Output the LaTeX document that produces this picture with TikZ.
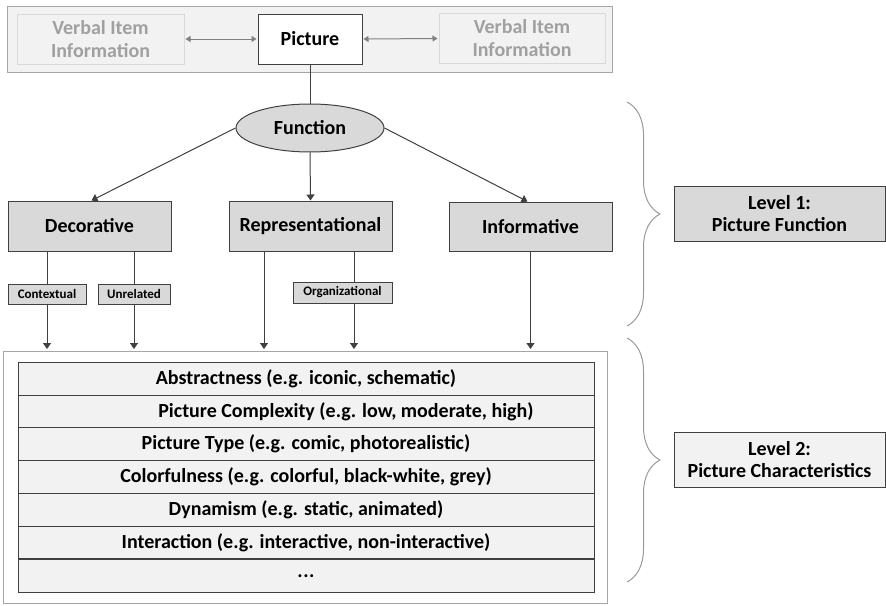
\documentclass[tikz,border=0pt]{standalone}
\usepackage{fontspec}
\setmainfont{Carlito}
\usepackage{tikz}
\usetikzlibrary{arrows.meta,positioning,shapes.geometric,decorations.pathreplacing}

\definecolor{boxgray}{HTML}{D9D9D9}
\definecolor{lightgray}{HTML}{F2F2F2}
\definecolor{framegray}{HTML}{A6A6A6}
\definecolor{textgray}{HTML}{A0A0A0}
\definecolor{linegray}{HTML}{404040}

\tikzset{
  lvlbox/.style={draw=linegray, line width=1pt, fill=boxgray, inner sep=0pt,
    font=\fontsize{20}{23}\selectfont\bfseries},
  subbox/.style={draw=linegray, line width=1pt, fill=boxgray, inner sep=0pt,
    minimum height=20pt, font=\fontsize{13}{15}\selectfont\bfseries},
  verbbox/.style={draw=boxgray, line width=1pt, fill=lightgray, text=textgray,
    minimum width=167pt, minimum height=50pt, align=center, inner sep=0pt,
    font=\fontsize{20}{23}\selectfont\bfseries},
  rowbox/.style={draw=linegray, line width=1pt, fill=lightgray, inner sep=0pt,
    minimum width=576pt, minimum height=32.7pt, font=\fontsize{20}{22}\selectfont\bfseries},
  sidebox/.style={draw=linegray, line width=1pt, minimum width=211pt, minimum height=55pt,
    align=center, inner sep=0pt, font=\fontsize{20}{22}\selectfont\bfseries},
  arr/.style={-{Triangle[width=8pt,length=6pt]}, line width=1pt, linegray},
  garr/.style={{Triangle[width=6pt,length=5pt]}-{Triangle[width=6pt,length=5pt]},
    line width=1pt, gray},
  bracelook/.style={decorate, decoration={brace,amplitude=33pt}, line width=1pt, gray!80}
}

\begin{document}
\begin{tikzpicture}[x=1pt,y=-1pt]
  \useasboundingbox (0,0) rectangle (886,605);

  % top band
  \draw[fill=lightgray, draw=framegray, line width=1pt] (7,6) rectangle (612,72);
  \node[verbbox] (verbl) at (100.5,39) {Verbal Item\\Information};
  \node[verbbox, minimum width=166pt] (verbr) at (522,38.5) {Verbal Item\\Information};
  \node[lvlbox, fill=white, minimum width=104pt, minimum height=50pt] (pic) at (310,39) {Picture};
  \draw[garr, shorten <=1pt, shorten >=1pt] (verbl.east) -- (pic.west);
  \draw[garr, shorten <=1pt, shorten >=1pt] (pic.east) -- (verbr.west);

  % level 1: function
  \node[lvlbox, ellipse, minimum width=148pt, minimum height=48pt] (func) at (310,128) {Function};
  \draw[line width=1pt, linegray] (pic.south) -- (func.north);

  \node[lvlbox, minimum width=163pt, minimum height=50pt] (deco) at (89.5,226) {Decorative};
  \node[lvlbox, minimum width=163pt, minimum height=50pt] (repr) at (310.5,226) {Representational};
  \node[lvlbox, minimum width=163pt, minimum height=49pt] (info) at (530.5,226.5) {Informative};
  \draw[arr] (func.west) -- ([xshift=2pt]deco.north);
  \draw[arr] (func.south) -- (repr.north);
  \draw[arr] (func.east) -- ([xshift=-3pt]info.north);

  \node[subbox, minimum width=78pt] (ctx) at (47,294) {Contextual};
  \node[subbox, minimum width=72pt] (unrel) at (134,294) {Unrelated};
  \node[subbox, minimum width=99pt, minimum height=21pt] (org) at (342.5,292.5) {Organizational};

  % level 2: characteristics
  \node[draw=framegray, fill=white, line width=1pt, minimum width=604pt, minimum height=252pt,
    inner sep=0pt] (chars) at (305,477) {};
  \foreach \txt [count=\i from 0] in {Abstractness (e.g. iconic{,} schematic),
      \hspace*{80pt}Picture Complexity (e.g. low{,} moderate{,} high),
      Picture Type (e.g. comic{,} photorealistic),
      Colorfulness (e.g. colorful{,} black-white{,} grey),
      Dynamism (e.g. static{,} animated),
      Interaction (e.g. interactive{,} non-interactive)}
    \node[rowbox, anchor=north] (row\i) at (306,362+32.7*\i) {\txt};
  \node[rowbox, anchor=north] (rowmore) at (row5.south) {.\kern0.5pt.\kern0.5pt.};

  % connectors into the characteristics box
  \draw[line width=1pt, linegray] (ctx.north |- deco.south) -- (ctx.north);
  \draw[arr] (ctx.south) -- ([yshift=1.5pt]ctx.south |- chars.north);
  \draw[line width=1pt, linegray] (unrel.north |- deco.south) -- (unrel.north);
  \draw[arr, line width=0.8pt] (unrel.south) -- ([yshift=1.5pt]unrel.south |- chars.north);
  \coordinate (repl) at ([xshift=-46.5pt]repr.south);
  \coordinate (repr2) at ([xshift=43.5pt]repr.south);
  \draw[arr] (repl) -- ([yshift=1.5pt]repl |- chars.north);
  \draw[line width=1pt, linegray] (repr2) -- (repr2 |- org.north);
  \draw[arr] (repr2 |- org.south) -- ([yshift=1.5pt]repr2 |- chars.north);
  \draw[arr] (info.south) -- ([yshift=1.5pt]info.south |- chars.north);

  % braces and level labels
  \draw[bracelook] (627,102) -- (627,326);
  \draw[bracelook] (627,338) -- (627,582);
  \node[sidebox, fill=boxgray] (lvl1) at (779.5,213.5) {Level 1:\\Picture Function};
  \node[sidebox, fill=lightgray] (lvl2) at (779.5,459.5) {Level 2:\\Picture Characteristics};
\end{tikzpicture}
\end{document}
